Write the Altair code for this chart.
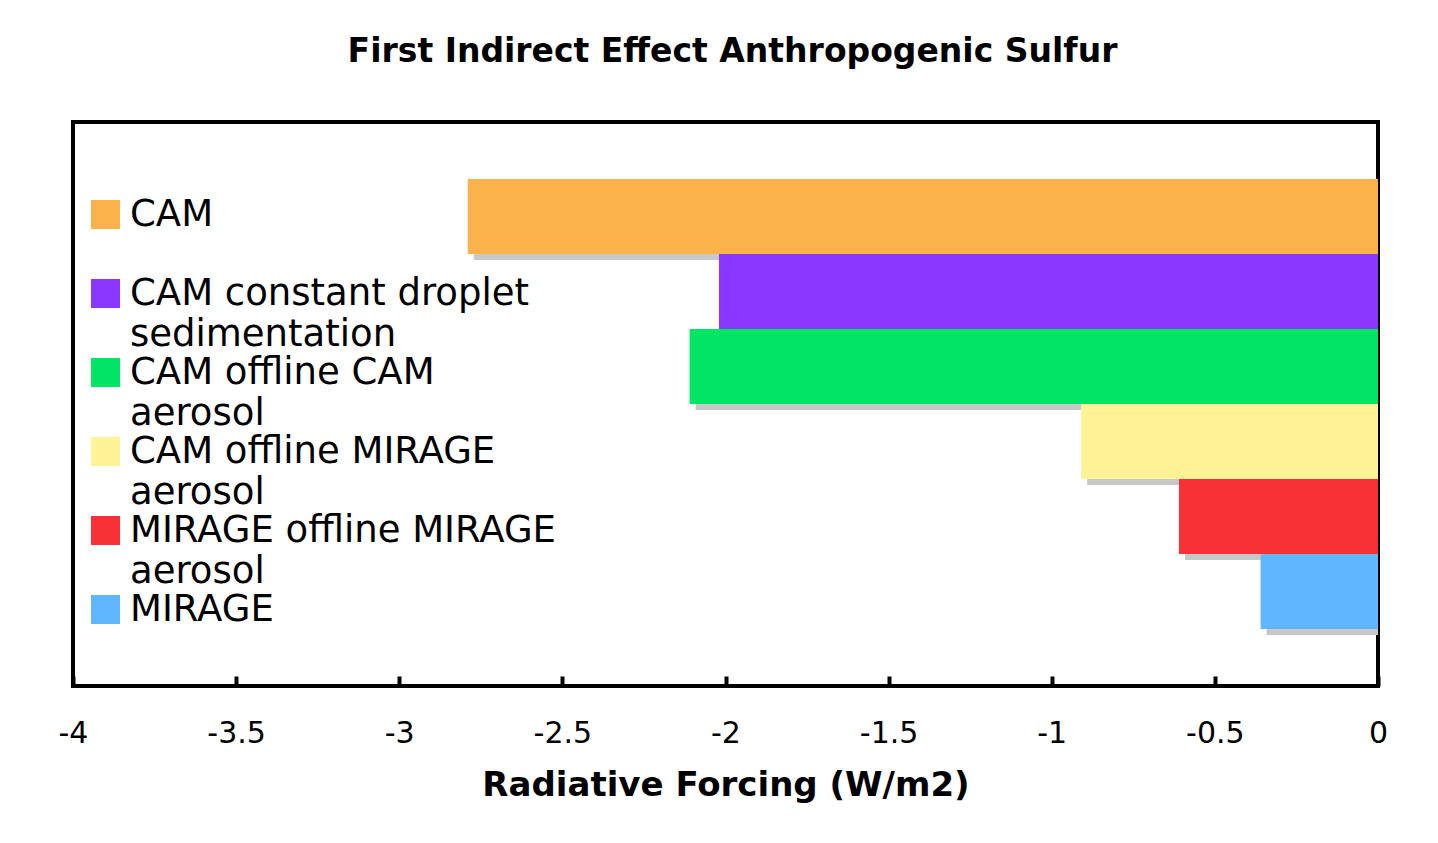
import altair as alt
import pandas as pd

title = "First Indirect Effect Anthropogenic Sulfur"
x_title = "Radiative Forcing (W/m2)"
categories = [
    "CAM",
    "CAM constant droplet sedimentation",
    "CAM offline CAM aerosol",
    "CAM offline MIRAGE aerosol",
    "MIRAGE offline MIRAGE aerosol",
    "MIRAGE",
]
legend_lines = [
    ["CAM", ""],
    ["CAM constant droplet", "sedimentation"],
    ["CAM offline CAM", "aerosol"],
    ["CAM offline MIRAGE", "aerosol"],
    ["MIRAGE offline MIRAGE", "aerosol"],
    ["MIRAGE", ""],
]
values = [-2.79, -2.02, -2.11, -0.91, -0.61, -0.36]
colors = ["#FCB24A", "#8A38FF", "#00E563", "#FFF397", "#F83136", "#60B6FF"]
tick_values = [-4, -3.5, -3, -2.5, -2, -1.5, -1, -0.5, 0]

df = pd.DataFrame({"model": categories, "forcing": values})

label_expr = " : ".join(
    f"datum.label == '{c}' ? {lines!r}" for c, lines in zip(categories, legend_lines)
) + " : datum.label"

x_scale = alt.Scale(domain=[-4, 0], nice=False, zero=False)
y_enc = alt.Y("model:N", sort=categories, axis=None,
              scale=alt.Scale(paddingInner=0, paddingOuter=0.76))

shadow = alt.Chart(df).mark_bar(color="#C8C8C8", xOffset=6, yOffset=6, clip=True).encode(
    x=alt.X("forcing:Q", scale=x_scale,
            axis=alt.Axis(orient="bottom", values=tick_values, ticks=True, tickSize=10,
                          tickWidth=4, tickColor="black", offset=-10, labels=False,
                          domain=False, grid=False, title=None)),
    y=y_enc,
)

bars = alt.Chart(df).mark_bar(clip=True).encode(
    x=alt.X("forcing:Q", scale=x_scale,
            axis=alt.Axis(orient="bottom", values=tick_values, ticks=False, tickSize=0,
                          domain=False, grid=False, title=x_title,
                          labelExpr="'' + datum.value", labelFlush=False,
                          labelFont="DejaVu Sans", labelFontSize=30, labelColor="black",
                          labelPadding=32, titleFont="DejaVu Sans", titleFontSize=34,
                          titleFontWeight="bold", titleColor="black", titlePadding=20)),
    y=y_enc,
    color=alt.Color("model:N", sort=categories,
                    scale=alt.Scale(domain=categories, range=colors),
                    legend=alt.Legend(title=None, orient="none", legendX=14, legendY=74,
                                      symbolType="square", symbolSize=841,
                                      symbolStrokeWidth=0, labelFont="DejaVu Sans",
                                      labelFontSize=37, labelColor="black",
                                      labelLimit=1000, labelOffset=6, padding=0,
                                      rowPadding=0, labelExpr=label_expr)),
)

chart = alt.layer(shadow, bars).resolve_axis(x="independent").properties(
    width=1305, height=564,
    autosize=alt.AutoSizeParams(type="none"),
    padding={"left": 65, "top": 114, "right": 40, "bottom": 130},
    title=alt.Title(title, font="DejaVu Sans", fontSize=33, fontWeight="bold",
                    color="black", anchor="middle", offset=53, dx=7),
).configure(
    style={"guide-label": {"lineHeight": 41}}
).configure_view(stroke="black", strokeWidth=4)

chart.save("out.html", embed_options={"renderer": "svg", "actions": False})
